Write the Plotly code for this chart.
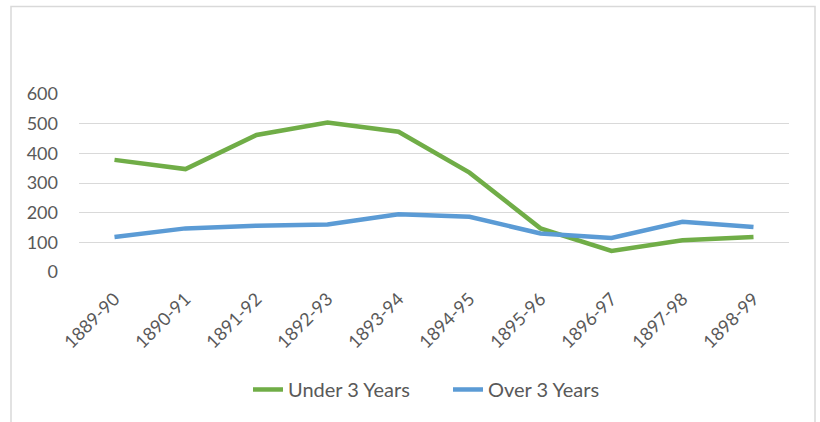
import plotly.graph_objects as go

categories = ["1889-90", "1890-91", "1891-92", "1892-93", "1893-94",
              "1894-95", "1895-96", "1896-97", "1897-98", "1898-99"]
under_3 = [378, 347, 462, 504, 473, 335, 147, 71, 107, 118]
over_3 = [118, 147, 156, 160, 195, 186, 130, 115, 169, 152]
y_ticks = [0, 100, 200, 300, 400, 500, 600]

FONT = "Lato, Open Sans, sans-serif"
GREY = "#595959"

fig = go.Figure()
fig.add_trace(go.Scatter(x=categories, y=under_3, mode="lines", name="Under 3 Years",
                         line=dict(color="#70AD47", width=4.5)))
fig.add_trace(go.Scatter(x=categories, y=over_3, mode="lines", name="Over 3 Years",
                         line=dict(color="#5B9BD5", width=4.5)))

fig.update_layout(
    width=820, height=422,
    margin=dict(l=79, r=31, t=94, b=150, autoexpand=False),
    paper_bgcolor="white", plot_bgcolor="white",
    font=dict(family=FONT, size=18, color=GREY),
    showlegend=True,
    legend=dict(orientation="h", x=0.238, xanchor="left", y=-0.66, yanchor="middle",
                font=dict(family=FONT, size=20, color=GREY),
                entrywidth=155, entrywidthmode="pixels",
                traceorder="normal"),
    xaxis=dict(type="category", range=[-0.5, 9.5], tickangle=-45, showgrid=False,
               showline=False, ticks="", zeroline=False, automargin=False,
               ticklabelstandoff=12,
               tickfont=dict(family=FONT, size=18, color=GREY)),
    yaxis=dict(range=[0, 600], tickvals=y_ticks, showgrid=True, gridcolor="#D9D9D9",
               gridwidth=1.3, zeroline=False, showline=False, ticks="",
               ticklabelstandoff=20, automargin=False,
               tickfont=dict(family=FONT, size=18, color=GREY)),
    shapes=[dict(type="rect", xref="paper", yref="paper",
                 x0=(11 - 79) / 710, x1=(815 - 79) / 710,
                 y0=-0.9, y1=(271.7 - 7) / 177.4,
                 line=dict(color="#D9D9D9", width=1.5), layer="below")],
)

fig.write_html(
    "out.html",
    config={"displayModeBar": False},
    post_script="document.body.style.margin='0';document.body.style.overflow='hidden';",
)
